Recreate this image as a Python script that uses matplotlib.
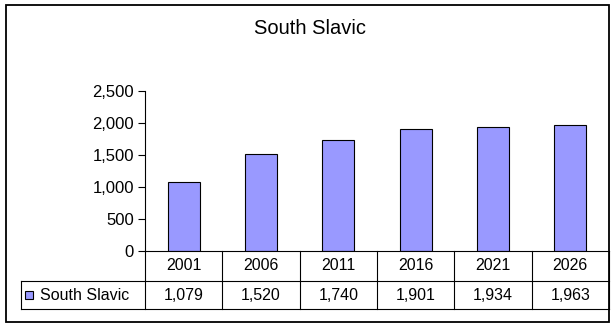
import matplotlib
matplotlib.use("Agg")
import matplotlib.pyplot as plt
from matplotlib.patches import Rectangle

# Datos de la serie
anios = ["2001", "2006", "2011", "2016", "2021", "2026"]
valores = [1079, 1520, 1740, 1901, 1934, 1963]
serie = "South Slavic"
ticks_y = [0, 500, 1000, 1500, 2000, 2500]

plt.rcParams["font.family"] = ["Liberation Sans", "DejaVu Sans"]

W, H = 613, 325
fig = plt.figure(figsize=(W / 100, H / 100), dpi=100)

# Marco exterior del grafico
fig.patches.append(Rectangle((6 / W, 3 / H), 603 / W, 317 / H, transform=fig.transFigure,
                             fill=False, edgecolor="black", linewidth=1.3))

# Area de las barras (en pixeles: x 145-609, y 91-251)
ax = fig.add_axes([145 / W, (H - 251) / H, 464 / W, 160 / H])
n = len(anios)
posiciones = [i + 0.5 for i in range(n)]
ax.bar(posiciones, valores, width=0.41, color="#9999FF", edgecolor="black", linewidth=0.8)
ax.set_xlim(0, n)
ax.set_ylim(0, 2500)
ax.set_yticks(ticks_y)
ax.set_yticklabels([f"{v:,}" for v in ticks_y], fontsize=12)
ax.set_xticks([])
for lado in ["top", "right", "bottom"]:
    ax.spines[lado].set_visible(False)
ax.spines["left"].set_linewidth(0.8)
ax.tick_params(axis="y", length=5, width=0.8, pad=3)

fig.text(310 / W, 1 - 28 / H, serie, ha="center", va="center", fontsize=14.5)

# Tabla de datos debajo del eje
tr = ax.get_xaxis_transform()
y0, y1, y2 = 0, -30 / 160, -58 / 160
x_izq = -124 / (464 / n)
kw = dict(transform=tr, clip_on=False, color="black", linewidth=0.8)
ax.plot([0, n], [y0, y0], **kw)
ax.plot([x_izq, n], [y1, y1], **kw)
ax.plot([x_izq, n], [y2, y2], **kw)
ax.plot([x_izq, x_izq], [y1, y2], **kw)
for i in range(n + 1):
    ax.plot([i, i], [y0, y2], **kw)
for i in range(n):
    ax.text(posiciones[i], (y0 + y1) / 2, anios[i], transform=tr, ha="center", va="center", fontsize=11.5)
    ax.text(posiciones[i], (y1 + y2) / 2, f"{valores[i]:,}", transform=tr, ha="center", va="center", fontsize=11.5)

# Clave de la leyenda
ax.add_patch(Rectangle((x_izq + 0.055, (y1 + y2) / 2 - 0.027), 0.1, 0.054, transform=tr, clip_on=False,
                       facecolor="#9999FF", edgecolor="black", linewidth=0.8))
ax.text(x_izq + 0.25, (y1 + y2) / 2, serie, transform=tr, ha="left", va="center", fontsize=11.5)

fig.savefig("out.png", dpi=100)
